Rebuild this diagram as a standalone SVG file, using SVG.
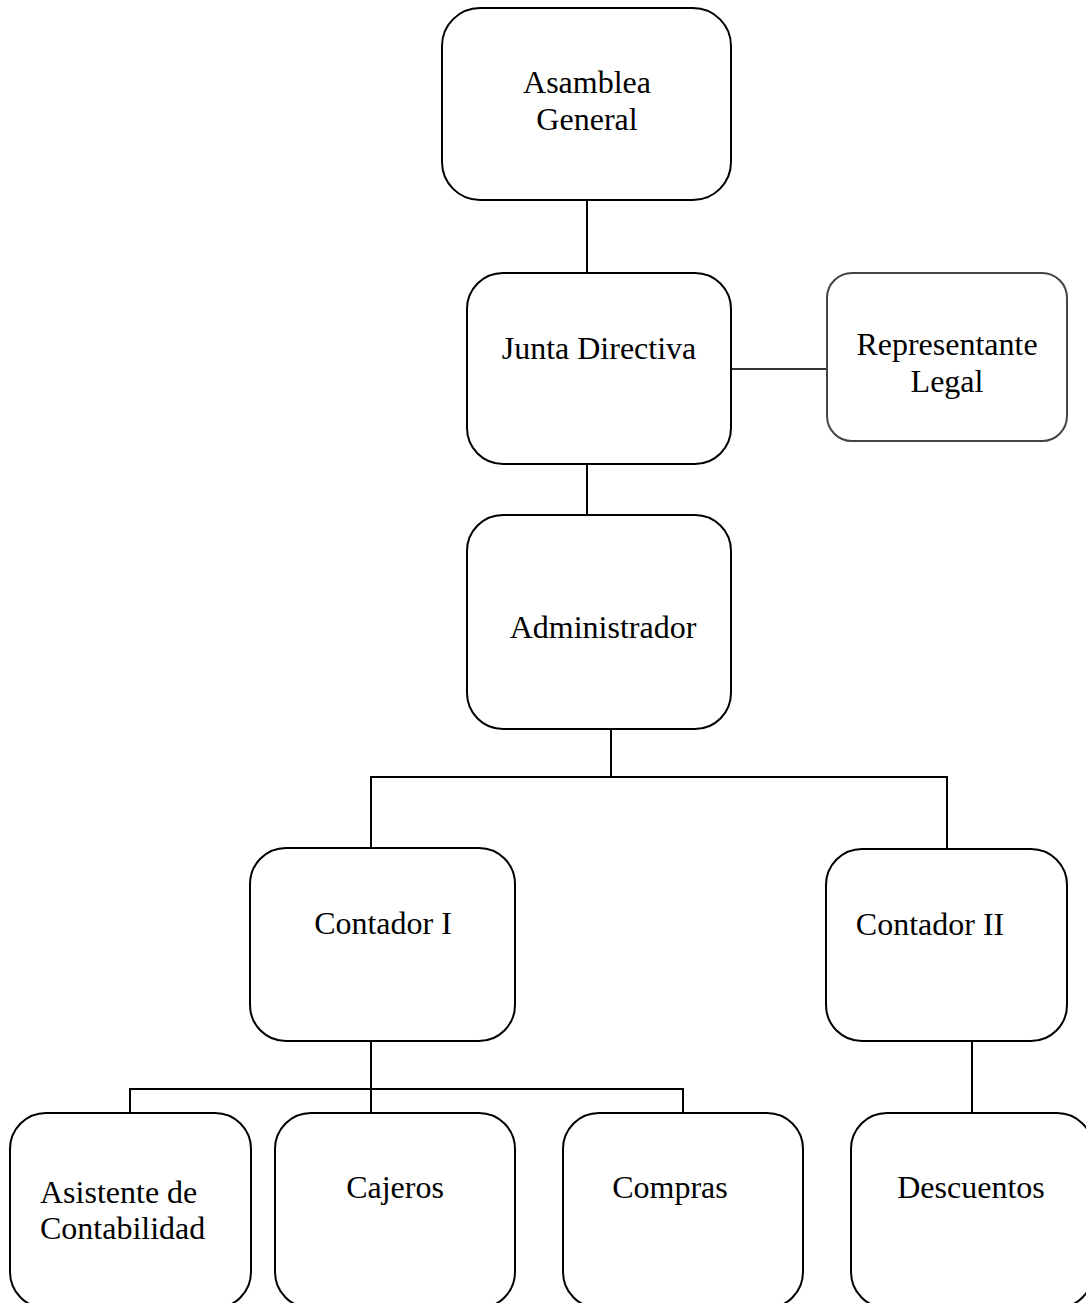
<svg xmlns="http://www.w3.org/2000/svg" width="1086" height="1303" viewBox="0 0 1086 1303">
<style>
.box{fill:#fff;stroke:#000;stroke-width:2}
.box2{fill:#fff;stroke:#444;stroke-width:2}
.t{font-family:"Liberation Serif","Times New Roman",serif;font-size:32px;fill:#000}
.c{text-anchor:middle}
.ln{fill:none;stroke:#000;stroke-width:2}
</style>
<rect width="1086" height="1303" fill="#fff"/>
<g id="connectors">
<line class="ln" x1="587" y1="200" x2="587" y2="273"/>
<line class="ln" x1="587" y1="464" x2="587" y2="515"/>
<line class="ln" x1="731" y1="369" x2="827" y2="369" style="stroke:#333"/>
<polyline class="ln" points="611,729 611,777"/>
<polyline class="ln" points="371,848 371,777 947,777 947,849"/>
<polyline class="ln" points="371,1041 371,1113"/>
<polyline class="ln" points="130,1113 130,1089 683,1089 683,1113"/>
<line class="ln" x1="972" y1="1041" x2="972" y2="1113"/>
</g>
<g id="asamblea">
<rect class="box" x="442" y="8" width="289" height="192" rx="38"/>
<text class="t c" x="587" y="93">Asamblea</text>
<text class="t c" x="587" y="130">General</text>
</g>
<g id="junta">
<rect class="box" x="467" y="273" width="264" height="191" rx="36"/>
<text class="t c" x="599" y="359">Junta Directiva</text>
</g>
<g id="representante">
<rect class="box2" x="827" y="273" width="240" height="168" rx="25"/>
<text class="t c" x="947" y="355">Representante</text>
<text class="t c" x="947" y="392">Legal</text>
</g>
<g id="administrador">
<rect class="box" x="467" y="515" width="264" height="214" rx="36"/>
<text class="t c" x="603" y="638">Administrador</text>
</g>
<g id="contador1">
<rect class="box" x="250" y="848" width="265" height="193" rx="36"/>
<text class="t c" x="383" y="934">Contador I</text>
</g>
<g id="contador2">
<rect class="box" x="826" y="849" width="241" height="192" rx="36"/>
<text class="t c" x="930" y="935">Contador II</text>
</g>
<g id="asistente">
<rect class="box" x="10" y="1113" width="241" height="195" rx="36"/>
<text class="t" x="40" y="1203">Asistente de</text>
<text class="t" x="40" y="1239">Contabilidad</text>
</g>
<g id="cajeros">
<rect class="box" x="275" y="1113" width="240" height="195" rx="36"/>
<text class="t c" x="395" y="1198">Cajeros</text>
</g>
<g id="compras">
<rect class="box" x="563" y="1113" width="240" height="195" rx="36"/>
<text class="t c" x="670" y="1198">Compras</text>
</g>
<g id="descuentos">
<rect class="box" x="851" y="1113" width="242" height="195" rx="36"/>
<text class="t c" x="971" y="1198">Descuentos</text>
</g>
</svg>
